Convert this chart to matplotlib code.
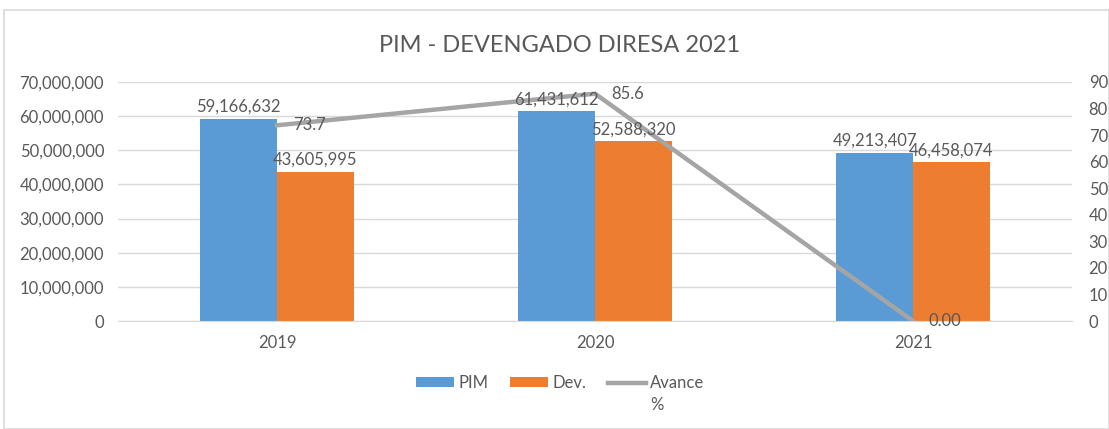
import matplotlib.pyplot as plt
import numpy as np
from matplotlib.patches import Rectangle

plt.rcParams['font.family'] = ['Lato', 'DejaVu Sans']

years = ['2019', '2020', '2021']
pim = [59166632, 61431612, 49213407]
dev = [43605995, 52588320, 46458074]
avance = [73.7, 85.6, 0.00]
avance_labels = ['73.7', '85.6', '0.00']

blue = '#5B9BD5'
orange = '#ED7D31'
gray = '#A5A5A5'
txt = '#595959'

fig = plt.figure(figsize=(11.09, 4.29), dpi=100)
ax = fig.add_axes([118 / 1109, 1 - 321 / 429, (1072 - 118) / 1109, (321 - 82) / 429])
ax2 = ax.twinx()

x = np.arange(len(years))
w = 0.242
ax.bar(x - w / 2, pim, w, color=blue, label='PIM', zorder=2)
ax.bar(x + w / 2, dev, w, color=orange, label='Dev.', zorder=2)

ax2.plot(x, avance, color=gray, lw=3.2, label='Avance', zorder=3)

# data labels drawn on top of the line
for i in range(len(years)):
    ax2.text(x[i] - w / 2, pim[i] + 1.2e6, f'{pim[i]:,}', ha='center', va='bottom',
             fontsize=12, color=txt, zorder=5, transform=ax.transData)
    ax2.text(x[i] + w / 2, dev[i] + 1.2e6, f'{dev[i]:,}', ha='center', va='bottom',
             fontsize=12, color=txt, zorder=5, transform=ax.transData)
    ax2.text(x[i] + 0.05, avance[i], avance_labels[i], ha='left', va='center',
             fontsize=12, color=txt, zorder=5)

ax.set_xlim(-0.5, 2.5)
ax.set_ylim(0, 70e6)
ax.set_yticks(np.arange(0, 70e6 + 1, 10e6))
ax.set_yticklabels([f'{int(v):,}' for v in np.arange(0, 70e6 + 1, 10e6)])
ax2.set_ylim(0, 90)
ax2.set_yticks(np.arange(0, 91, 10))
ax.set_xticks(x)
ax.set_xticklabels(years)

ax.grid(axis='y', color='#D9D9D9', lw=1, zorder=0)
ax.set_axisbelow(True)
for a in (ax, ax2):
    for s in a.spines.values():
        s.set_visible(False)
    a.tick_params(length=0, labelsize=12, colors=txt)
ax.tick_params(axis='y', pad=10)
ax2.tick_params(axis='y', pad=12)
ax.tick_params(axis='x', pad=10)
ax.spines['bottom'].set_visible(True)
ax.spines['bottom'].set_color('#D9D9D9')

ax2.set_zorder(ax.get_zorder() + 1)
ax2.patch.set_visible(False)

fig.text(0.505, 1 - 45 / 429, 'PIM - DEVENGADO DIRESA 2021', ha='center', va='center',
         fontsize=17, color=txt)

h1, l1 = ax.get_legend_handles_labels()
h2, l2 = ax2.get_legend_handles_labels()
leg = fig.legend(h1 + h2, l1 + l2, loc='center', bbox_to_anchor=(0.505, 1 - 383 / 429), ncol=3,
                 frameon=False, fontsize=12, labelcolor=txt, handlelength=2.3, handleheight=0.5,
                 columnspacing=1.3, handletextpad=0.25)

# second line of the "Avance %" legend entry
fig.canvas.draw()
bb = leg.get_texts()[2].get_window_extent()
fig.text(bb.x0 / 1109, (bb.y0 - 22) / 429, '%', ha='left', va='bottom', fontsize=12, color=txt)

fig.patches.append(Rectangle((4 / 1109, 0), 1 - 4 / 1109, 1 - 10 / 429, transform=fig.transFigure,
                             fill=False, edgecolor='#D9D9D9', lw=1.2))

fig.savefig('out.png', dpi=100)
